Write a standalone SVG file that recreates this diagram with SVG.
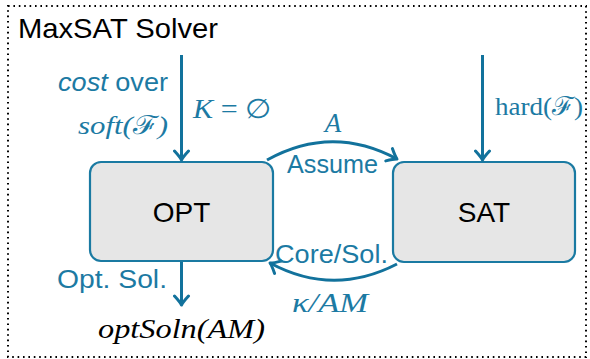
<svg xmlns="http://www.w3.org/2000/svg" width="590" height="359" viewBox="0 0 590 359">
<style>
.frame{fill:none;stroke:#000;stroke-width:2;stroke-dasharray:1.6 3.8;stroke-linecap:butt}
.box{fill:#e6e6e6;stroke:#1a7aa2;stroke-width:2.2}
.edge{fill:none;stroke:#12729c;stroke-width:3}
.lbl{fill:#1c7aa3}
.sans{font-family:"Liberation Sans","DejaVu Sans",sans-serif}
.math{font-family:"Liberation Serif","DejaVu Serif",serif;font-style:italic}
.rm{font-family:"Liberation Serif","DejaVu Serif",serif}
.node{font-family:"Liberation Sans","DejaVu Sans",sans-serif;font-size:28px;fill:#000;text-anchor:middle}
</style>
<defs>
<marker id="ah" markerUnits="userSpaceOnUse" viewBox="-12 -9 14 18" markerWidth="14" markerHeight="18" refX="0" refY="0" orient="auto">
<path d="M-9,-7 Q-3,-1.5 0,0 Q-3,1.5 -9,7" fill="none" stroke="#12729c" stroke-width="3" stroke-linecap="round" stroke-linejoin="round"/>
</marker>
</defs>
<rect class="frame" x="8" y="6" width="578" height="351"/>
<text class="sans" x="18" y="38" font-size="28" fill="#000" textLength="200" lengthAdjust="spacingAndGlyphs">MaxSAT Solver</text>
<g id="opt">
<rect class="box" x="90" y="162" width="183" height="99" rx="11"/>
<text class="node" x="181.5" y="222">OPT</text>
</g>
<g id="sat">
<rect class="box" x="393" y="162" width="182" height="100" rx="11"/>
<text class="node" x="484" y="222">SAT</text>
</g>
<g id="connectors">
<path class="edge" d="M181.5,55 L181.5,160" marker-end="url(#ah)"/>
<path class="edge" d="M482.5,55 L482.5,160" marker-end="url(#ah)"/>
<path class="edge" d="M181.5,262 L181.5,305" marker-end="url(#ah)"/>
<path class="edge" d="M267,160 Q332,124 397,159" marker-end="url(#ah)"/>
<path class="edge" d="M397,264 Q333,297 270,263" marker-end="url(#ah)"/>
</g>
<g id="labels">
<text class="lbl" x="58" y="91" font-size="25" textLength="110" lengthAdjust="spacingAndGlyphs"><tspan class="sans" font-style="italic">cost</tspan><tspan class="sans"> over</tspan></text>
<text class="lbl math" x="78" y="134" font-size="26" textLength="90" lengthAdjust="spacingAndGlyphs">soft(<tspan font-style="normal">ℱ</tspan>)</text>
<text class="lbl" x="193" y="118" font-size="27" textLength="79" lengthAdjust="spacingAndGlyphs"><tspan class="math">K</tspan><tspan class="rm"> = ∅</tspan></text>
<text class="lbl rm" x="495" y="115" font-size="26" textLength="88" lengthAdjust="spacingAndGlyphs">hard(ℱ)</text>
<text class="lbl math" x="333" y="132" font-size="27" text-anchor="middle">A</text>
<text class="lbl sans" x="287" y="173" font-size="25" textLength="91" lengthAdjust="spacingAndGlyphs">Assume</text>
<text class="lbl sans" x="275" y="263" font-size="25" textLength="113" lengthAdjust="spacingAndGlyphs">Core/Sol.</text>
<text class="lbl math" x="292" y="312" font-size="28" textLength="76" lengthAdjust="spacingAndGlyphs">κ/AM</text>
<text class="lbl sans" x="57" y="288" font-size="25" textLength="110" lengthAdjust="spacingAndGlyphs">Opt. Sol.</text>
<text class="math" x="98" y="338" font-size="27" fill="#000" textLength="167" lengthAdjust="spacingAndGlyphs">optSoln(AM)</text>
</g>
</svg>
